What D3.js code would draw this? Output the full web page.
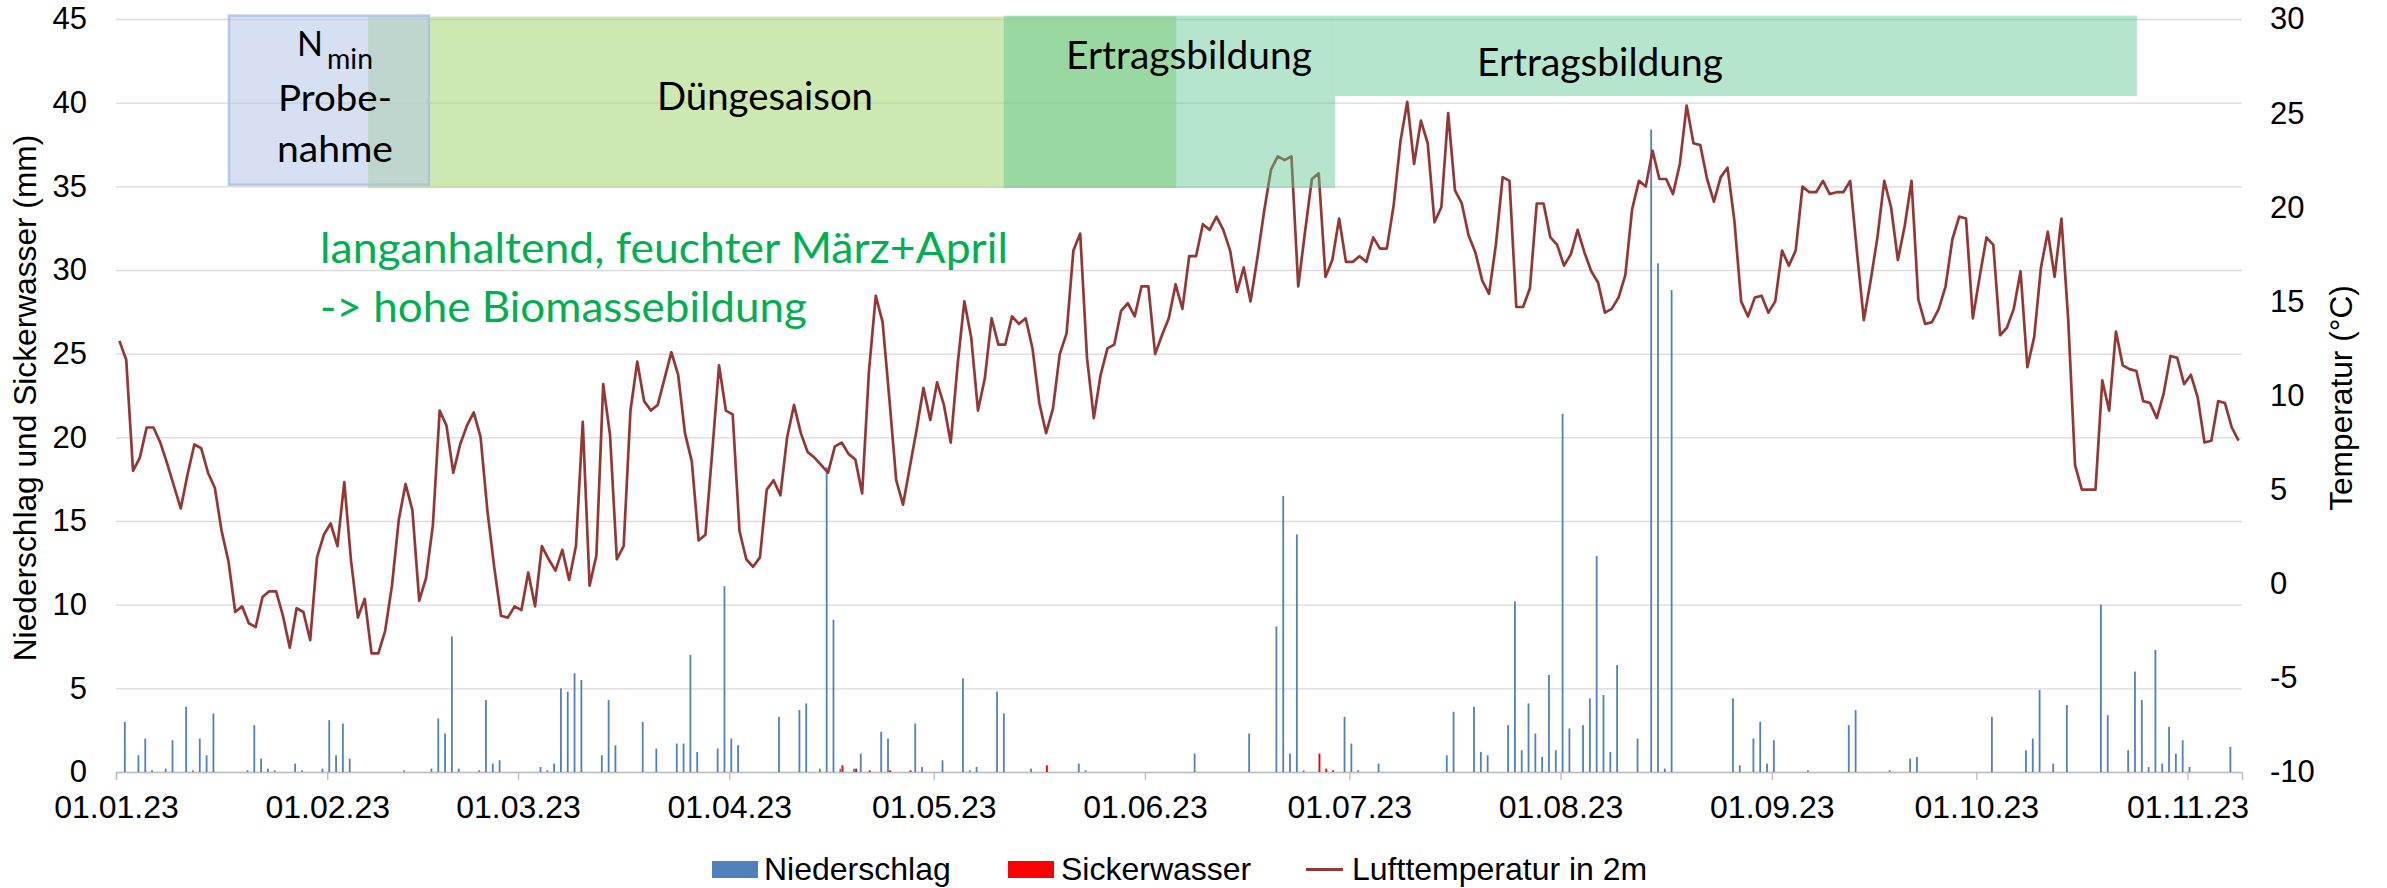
<!DOCTYPE html>
<html><head><meta charset="utf-8">
<script src="https://cdn.jsdelivr.net/npm/d3@7"></script>
<style>body{margin:0;background:#fff}svg{display:block}</style>
</head><body>
<svg id="chart" width="2387" height="888"></svg>
<script>
// ---------- DATA ----------
const startDate = [2023, 0, 1];          // first day of the daily series (01.01.23)
const axisEnd   = [2023, 10, 9];         // end of the date axis
// Lufttemperatur in 2m (°C), daily, from 01.01.23
const lufttemperatur = [
 12.9,11.9,6.0,6.7,8.3,8.3,7.5,6.4,5.2,4.0,
 5.8,7.4,7.2,5.9,5.1,2.8,1.2,-1.5,-1.2,-2.1,
 -2.3,-0.7,-0.4,-0.4,-1.7,-3.4,-1.3,-1.5,-3.0,1.4,
 2.6,3.2,2.0,5.4,1.2,-1.8,-0.8,-3.7,-3.7,-2.5,
 -0.1,3.4,5.3,3.9,-0.9,0.3,3.1,9.2,8.4,5.9,
 7.4,8.4,9.1,7.8,3.9,0.9,-1.7,-1.8,-1.2,-1.4,
 0.6,-1.2,2.0,1.3,0.7,1.8,0.2,2.0,8.6,-0.1,
 1.5,10.6,7.9,1.3,2.0,9.2,11.8,9.7,9.2,9.5,
 10.9,12.3,11.1,8.0,6.5,2.3,2.6,7.0,11.6,9.2,
 9.0,2.8,1.3,0.9,1.4,5.0,5.5,4.7,7.8,9.5,
 8.0,7.0,6.7,6.3,5.9,7.3,7.5,6.9,6.6,4.8,
 11.3,15.3,13.9,9.8,5.5,4.2,6.2,8.2,10.4,8.7,
 10.7,9.5,7.5,11.6,15.0,13.1,9.2,10.9,14.1,12.7,
 12.7,14.2,13.8,14.1,12.5,9.6,8.0,9.3,12.2,13.3,
 17.7,18.6,12.0,8.8,11.1,12.5,12.7,14.5,14.9,14.2,
 15.8,15.8,12.2,13.2,14.1,15.9,14.6,17.4,17.4,19.1,
 18.8,19.5,18.8,17.7,15.5,16.8,15.0,17.3,19.8,22.0,
 22.7,22.5,22.7,15.8,18.7,21.5,21.8,16.3,17.2,19.4,
 17.1,17.1,17.4,17.1,18.4,17.8,17.8,20.1,23.5,25.6,
 22.3,24.6,23.4,19.2,20.0,25.0,20.9,20.2,18.5,17.6,
 16.1,15.4,18.0,21.6,21.4,14.7,14.7,15.7,20.2,20.2,
 18.4,18.0,16.9,17.5,18.8,17.6,16.6,16.0,14.4,14.6,
 15.2,16.4,19.9,21.4,21.1,23.0,21.5,21.5,20.7,22.3,
 25.4,23.4,23.3,21.5,20.3,21.6,22.1,19.3,15.0,14.2,
 15.2,15.3,14.4,15.0,17.7,16.9,17.7,21.1,20.8,20.8,
 21.4,20.7,20.8,20.8,21.4,17.6,14.0,16.1,18.4,21.4,
 20.0,17.2,19.0,21.4,15.1,13.8,13.9,14.6,15.8,18.3,
 19.5,19.4,14.1,16.3,18.4,18.0,13.2,13.6,14.6,16.6,
 11.5,13.1,16.8,18.7,16.3,19.4,14.0,6.3,5.0,5.0,
 5.0,10.8,9.2,13.4,11.6,11.4,11.3,9.7,9.6,8.8,
 10.1,12.1,12.0,10.6,11.1,9.9,7.5,7.6,9.7,9.6,
 8.3,7.6
];
// Niederschlag (mm), daily, from 01.01.23
const niederschlag = [
 0,3.0,0,1.0,2.0,0.1,0,0.2,1.9,0,
 3.9,0.1,2.0,1.0,3.5,0,0,0,0,0.1,
 2.8,0.8,0.2,0.1,0,0,0.5,0.1,0,0,
 0.2,3.1,1.0,2.9,0.8,0,0,0,0,0,
 0,0,0.1,0,0,0,0.2,3.2,2.3,8.1,
 0.2,0,0,0.1,4.3,0.5,0.7,0,0,0,
 0,0,0.3,0.1,0.5,5.0,4.8,5.9,5.5,0,
 0,1.0,4.3,1.6,0,0,0,3.0,0,1.4,
 0,0,1.7,1.7,7.0,1.2,0,0,1.4,11.1,
 2.0,1.6,0,0,0,0,0,3.3,0,0,
 3.7,4.1,0,0.2,18.2,9.1,0.2,0,0.2,1.1,
 0,0,2.4,2.0,0,0,0,2.9,0.3,0,
 0,0.7,0,0,5.6,0.1,0.3,0,0,4.8,
 3.5,0,0,0,0.2,0,0,0,0,0,
 0,0.5,0.1,0,0,0,0,0,0,0,
 0,0,0,0,0,0,0,0,1.1,0,
 0,0,0,0,0,0,2.3,0,0,0,
 8.7,16.5,1.1,14.2,0.1,0,0,0,0,0,
 3.3,1.7,0.1,0,0,0.5,0,0,0,0,
 0,0,0,0,0,1.0,3.6,0,0,3.9,
 1.2,1.0,0,0,2.8,10.2,1.3,4.1,2.3,0.9,
 5.8,1.3,21.4,2.6,0,2.8,4.4,12.9,4.6,1.2,
 6.4,0,0,2.0,0,38.4,30.4,0.2,28.8,0,
 0,0,0,0,0,0,0,4.4,0.4,0,
 2.0,3.0,0.5,1.9,0,0,0,0,0.1,0,
 0,0,0,0,2.8,3.7,0,0,0,0,
 0.1,0,0,0.8,0.9,0,0,0,0,0,
 0,0,0,0,0,3.3,0,0,0,0,
 1.3,2.0,4.9,0,0.5,0,4.0,0,0,0,
 0,10.0,3.4,0,0,1.3,6.0,4.3,0.3,7.3,
 0.5,2.7,1.1,1.9,0.3,0,0,0,0,0,
 1.5,0
];
// Sickerwasser (mm): only the days with a value
const sickerDates  = ["2023-04-17","2023-04-19","2023-04-21","2023-04-24","2023-04-27","2023-05-17","2023-06-26","2023-06-27","2023-06-28"];
const sickerValues = [0.4,0.2,0.1,0.1,0.1,0.4,1.1,0.2,0.1];

const leftTicks  = [0,5,10,15,20,25,30,35,40,45];
const rightTicks = [-10,-5,0,5,10,15,20,25,30];
const legendLabels = ["Niederschlag","Sickerwasser","Lufttemperatur in 2m"];
const leftTitle  = "Niederschlag und Sickerwasser (mm)";
const rightTitle = "Temperatur (°C)";
// annotation phases: [from date, to date, top mm, bottom mm]
const phaseNames = ["Nmin","Düngesaison","Ertragsbildung","Ertragsbildung"];
const phaseFrom  = ["2023-01-17T14:00","2023-02-07T00:00","2023-05-11T07:00","2023-06-28T22:00"];
const phaseTo    = ["2023-02-15T22:00","2023-06-05T14:00","2023-06-28T22:00","2023-10-24T14:00"];
const phaseTop   = [45.2,45.15,45.2,45.2];
const phaseBot   = [35.1,34.9,34.9,40.4];
const noteLines  = ["langanhaltend, feuchter März+April","-> hohe Biomassebildung"];

// ---------- CHART ----------
const svg = d3.select("#chart");
const L = 116, R = 2242, T = 19, B = 772;
const x  = d3.scaleUtc().domain([Date.UTC(...startDate), Date.UTC(...axisEnd)]).range([L, R]);
const yL = d3.scaleLinear().domain([0,45]).range([B, T]);
const yR = d3.scaleLinear().domain([-10,30]).range([B, T]);
const dayDate = i => new Date(Date.UTC(startDate[0], startDate[1], startDate[2] + i, 12));
const tickFont = "'Liberation Sans', Arial, sans-serif";

// gridlines
svg.append("g").attr("transform", `translate(${L},0)`)
  .call(d3.axisLeft(yL).tickValues(leftTicks).tickSize(-(R-L)).tickFormat(""))
  .call(g => g.select(".domain").remove())
  .call(g => g.selectAll("line").attr("stroke", "#d9d9d9").attr("stroke-width", 1.4));

// left axis labels
svg.append("g").attr("transform", `translate(${L},0)`)
  .call(d3.axisLeft(yL).tickValues(leftTicks).tickSize(0).tickPadding(29).tickFormat(d => String(d)))
  .call(g => g.select(".domain").remove())
  .call(g => g.selectAll("text").attr("font-family", tickFont).attr("font-size", 31).attr("fill", "#000"));

// right axis labels
svg.append("g").attr("transform", `translate(${R},0)`)
  .call(d3.axisRight(yR).tickValues(rightTicks).tickSize(0).tickPadding(28).tickFormat(d => String(d)))
  .call(g => g.select(".domain").remove())
  .call(g => g.selectAll("text").attr("font-family", tickFont).attr("font-size", 31).attr("fill", "#000"));

// bottom axis
svg.append("g").attr("transform", `translate(0,${B})`)
  .call(d3.axisBottom(x).ticks(d3.utcMonth.every(1)).tickFormat(d3.utcFormat("%d.%m.%y")).tickSize(8).tickPadding(15))
  .call(g => g.select(".domain").attr("stroke", "#bfbfbf").attr("stroke-width", 1.4))
  .call(g => g.selectAll("line").attr("stroke", "#bfbfbf").attr("stroke-width", 1.4))
  .call(g => g.selectAll("text").attr("font-family", tickFont).attr("font-size", 32).attr("fill", "#000"));

// bars: Niederschlag
svg.append("g").selectAll("rect").data(niederschlag.map((v,i) => ({d: dayDate(i), v})).filter(o => o.v > 0))
  .join("rect")
  .attr("x", o => x(o.d) - 2.3).attr("width", 1.8)
  .attr("y", o => yL(o.v)).attr("height", o => yL(0) - yL(o.v))
  .attr("fill", "#4f81bd");

// bars: Sickerwasser
svg.append("g").selectAll("rect").data(sickerDates.map((s,i) => ({d: new Date(s + "T12:00:00Z"), v: sickerValues[i]})))
  .join("rect")
  .attr("x", o => x(o.d) - 0.2).attr("width", 1.9)
  .attr("y", o => yL(o.v)).attr("height", o => yL(0) - yL(o.v))
  .attr("fill", "#ff0000");

// temperature line
svg.append("path")
  .datum(lufttemperatur.map((v,i) => ({d: dayDate(i), v})))
  .attr("fill", "none").attr("stroke", "#953735").attr("stroke-width", 2.7).attr("stroke-linejoin", "round")
  .attr("d", d3.line().x(o => x(o.d)).y(o => yR(o.v)));

// annotation boxes
const phaseFill = ["rgba(180,199,231,0.55)","rgba(172,217,123,0.6)","rgba(91,199,144,0.45)","rgba(91,199,144,0.45)"];
const order = [1,2,3,0];
const boxes = svg.append("g");
order.forEach(i => {
  const x0 = x(new Date(phaseFrom[i] + "Z")), x1 = x(new Date(phaseTo[i] + "Z"));
  boxes.append("rect").attr("x", x0).attr("y", yL(phaseTop[i]))
    .attr("width", x1 - x0).attr("height", yL(phaseBot[i]) - yL(phaseTop[i]))
    .attr("fill", phaseFill[i])
    .attr("stroke", i === 0 ? "rgba(170,192,230,0.85)" : "none").attr("stroke-width", i === 0 ? 2.5 : 0);
});

// annotation texts
const af = "Lato, 'Open Sans', sans-serif";
const txt = (s, xx, yy, size, len, fill) => svg.append("text").attr("x", xx).attr("y", yy)
  .attr("font-family", af).attr("font-size", size).attr("fill", fill || "#000")
  .attr("textLength", len).attr("lengthAdjust", "spacingAndGlyphs").text(s);
txt("N", 297, 56, 35, 26);
txt("min", 327, 69, 28, 46);
txt("Probe-", 278, 110.5, 37, 114);
txt("nahme", 277, 162, 37, 116);
txt(phaseNames[1], 657, 110, 38, 216);
txt(phaseNames[2], 1066, 69, 38, 246);
txt(phaseNames[3], 1477, 75.5, 38, 246);
txt(noteLines[0], 320, 263, 42, 688, "#00b050");
txt(noteLines[1], 320, 322, 42, 487, "#00b050");

// axis titles
svg.append("text").attr("transform", "translate(36,398) rotate(-90)").attr("text-anchor", "middle")
  .attr("font-family", tickFont).attr("font-size", 31.7).attr("fill", "#000").text(leftTitle);
svg.append("text").attr("transform", "translate(2352,398) rotate(-90)").attr("text-anchor", "middle")
  .attr("font-family", tickFont).attr("font-size", 31.7).attr("fill", "#000").text(rightTitle);

// legend
const lg = svg.append("g");
lg.append("rect").attr("x", 712).attr("y", 861).attr("width", 46).attr("height", 17).attr("fill", "#4f81bd");
lg.append("rect").attr("x", 1008).attr("y", 861).attr("width", 46).attr("height", 17).attr("fill", "#ff0000");
lg.append("line").attr("x1", 1306).attr("x2", 1343).attr("y1", 869.5).attr("y2", 869.5).attr("stroke", "#953735").attr("stroke-width", 3);
[[764, legendLabels[0]], [1061, legendLabels[1]], [1352, legendLabels[2]]].forEach(([xx, s]) =>
  lg.append("text").attr("x", xx).attr("y", 880).attr("font-family", tickFont).attr("font-size", 32).attr("fill", "#000").text(s));
</script>
</body></html>
